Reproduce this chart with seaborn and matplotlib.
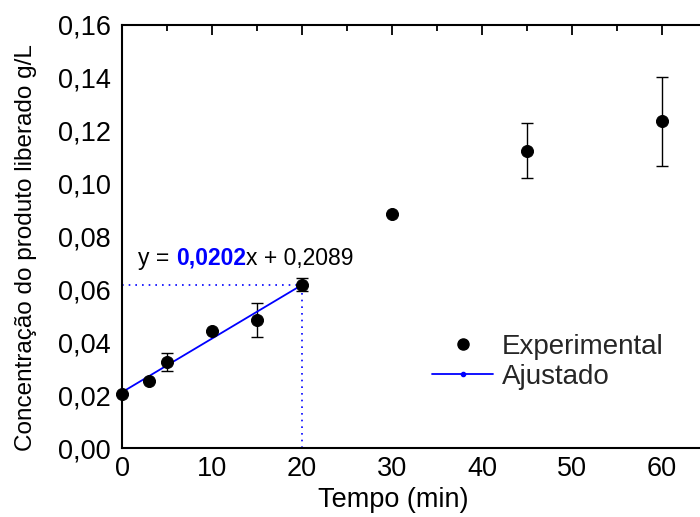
import matplotlib
matplotlib.use("Agg")
import matplotlib.pyplot as plt
import seaborn as sns
import numpy as np
import pandas as pd
from matplotlib.ticker import MultipleLocator, FuncFormatter
from matplotlib.lines import Line2D

tempo = [0, 3, 5, 10, 15, 20, 30, 45, 60]
conc = [0.0205, 0.0253, 0.0325, 0.0442, 0.0485, 0.0617, 0.0885, 0.1125, 0.1238]
err_low = [0.0, 0.0, 0.0035, 0.0, 0.0065, 0.0025, 0.0, 0.0105, 0.0170]
err_high = [0.0, 0.0, 0.0035, 0.0, 0.0065, 0.0025, 0.0, 0.0105, 0.0167]
fit_x = [0, 20]
fit_y = [0.0211, 0.0617]

sns.set_theme(style="white")
plt.rcParams['font.family'] = ['Liberation Sans', 'DejaVu Sans']

fig = plt.figure(figsize=(7, 5.17), dpi=100)
ax = fig.add_axes([122/700, 69/517, 585/700, 423/517])

df = pd.DataFrame({"t": tempo, "c": conc})
dfit = pd.DataFrame({"t": fit_x, "c": fit_y})

ax.errorbar(tempo, conc, yerr=[err_low, err_high], fmt='none', ecolor='black',
            elinewidth=1, capsize=4, capthick=1, zorder=2)
sns.lineplot(data=dfit, x="t", y="c", ax=ax, color='#0000ff', linewidth=1.3, zorder=3)
sns.scatterplot(data=df, x="t", y="c", ax=ax, color='black', s=75, edgecolor='black',
                zorder=4, clip_on=False)

# dotted guide lines
ax.plot([0, fit_x[1]], [fit_y[1], fit_y[1]], linestyle=(0, (1, 3)), color='#0000ff', linewidth=1.2)
ax.plot([fit_x[1], fit_x[1]], [0, fit_y[1]], linestyle=(0, (1, 3)), color='#0000ff', linewidth=1.2)
ax.plot([0, 0], [0, fit_y[0]], linestyle=(0, (1, 3)), color='#0000ff', linewidth=1.2)

ax.set_xlim(0, 65)
ax.set_ylim(0, 0.16)
ax.xaxis.set_major_locator(MultipleLocator(10))
ax.xaxis.set_minor_locator(MultipleLocator(5))
ax.yaxis.set_major_locator(MultipleLocator(0.02))
ax.yaxis.set_minor_locator(MultipleLocator(0.01))
ax.yaxis.set_major_formatter(FuncFormatter(lambda v, p: f"{v:.2f}".replace('.', ',')))
ax.xaxis.set_major_formatter(FuncFormatter(lambda v, p: f"{int(round(v))}"))
ax.tick_params(which='both', direction='in', top=True, right=False, colors='black',
               labelsize=19.5, width=1.3)
ax.tick_params(which='major', length=7)
ax.tick_params(which='minor', length=4)
ax.tick_params(axis='y', which='major', pad=8)
ax.tick_params(axis='x', which='major', pad=6)
for s in ax.spines.values():
    s.set_color('black')
    s.set_linewidth(1.5)

ax.set_xlabel("Tempo (min)", fontsize=19.5, color='black')
ax.xaxis.set_label_coords((393 - 122) / 585, -(487 - 448) / 423)
ax.set_ylabel("Concentração do produto liberado g/L", fontsize=17.5, color='black')
ax.yaxis.set_label_coords(-(122 - 37) / 585, (448 - 248) / 423)

t0 = ax.text(1.8, 0.0718, "y = ", fontsize=16.5, color='black', va='center')
t1 = ax.annotate("0,0202", xy=(1, 0), xycoords=t0, fontsize=16.5, color='#0000ff',
                 fontweight='bold', va='bottom')
t2 = ax.annotate("x + 0,2089", xy=(1, 0), xycoords=t1, fontsize=16.5, color='black',
                 va='bottom')

handles = [Line2D([], [], marker='o', color='black', linestyle='none', markersize=8),
           Line2D([], [], marker='o', color='#0000ff', markersize=3, linewidth=1.3)]
leg = ax.legend(handles, ["Experimental", "Ajustado"], loc='center left',
                bbox_to_anchor=((432 - 122) / 585, (448 - 362) / 423), frameon=False,
                fontsize=20, handlelength=2.2, handletextpad=0.32, labelspacing=0.15,
                borderaxespad=0, borderpad=0)

fig.savefig("out.png", dpi=100)
